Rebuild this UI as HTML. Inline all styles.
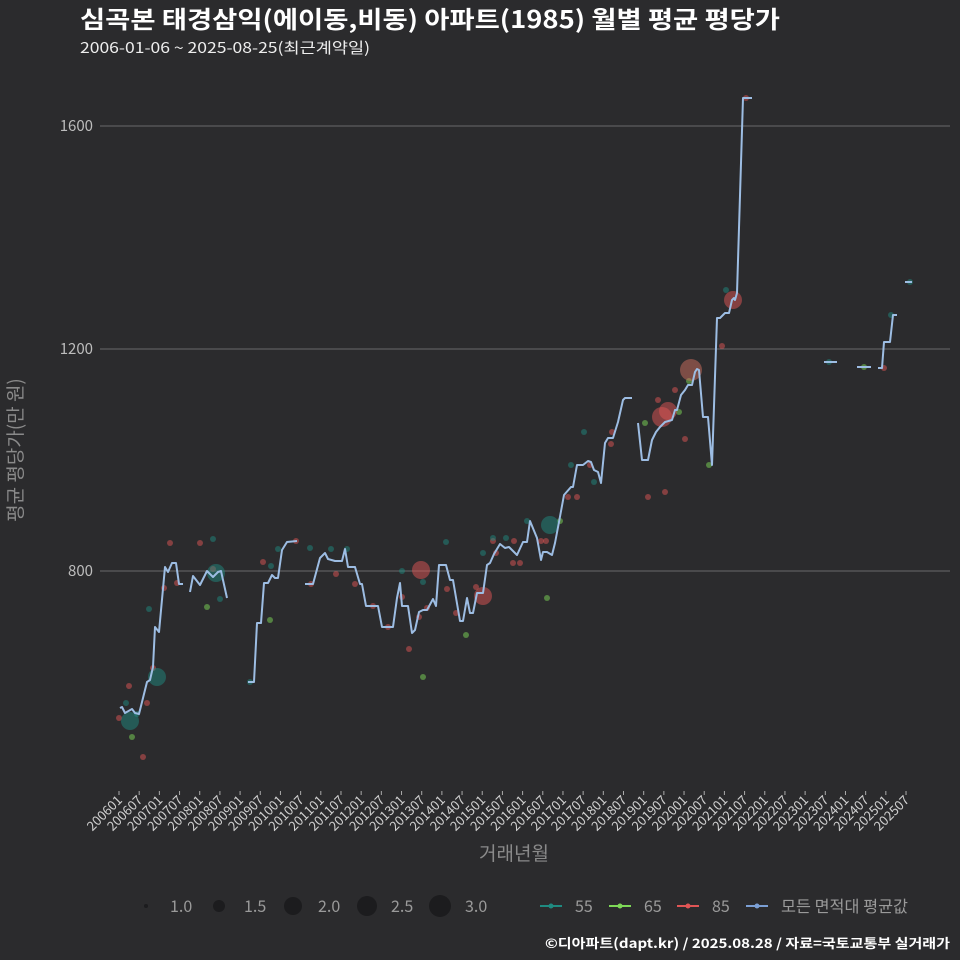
<!DOCTYPE html>
<html><head><meta charset="utf-8"><style>
body{margin:0;background:#2b2b2d;}
svg{display:block;font-family:"Noto Sans CJK KR","Liberation Sans",sans-serif;}
</style></head><body>
<svg id="s" width="960" height="960" viewBox="0 0 960 960" xmlns="http://www.w3.org/2000/svg">
<rect width="960" height="960" fill="#2b2b2d"/>
<text x="80" y="28" fill="#fff" font-size="24" font-weight="bold" textLength="700" lengthAdjust="spacingAndGlyphs">심곡본 태경삼익(에이동,비동) 아파트(1985) 월별 평균 평당가</text>
<text x="80" y="53" fill="#eee" font-size="15" textLength="290" lengthAdjust="spacingAndGlyphs">2006-01-06 ~ 2025-08-25(최근계약일)</text>
<g stroke="#6a6a6a" stroke-width="1">
<line x1="100" y1="126" x2="950" y2="126"/><line x1="100" y1="349" x2="950" y2="349"/><line x1="100" y1="571" x2="950" y2="571"/>
</g>
<g fill="#bdbdbd" font-size="15" text-anchor="end">
<text x="93" y="131">1600</text><text x="93" y="354">1200</text><text x="93" y="576">800</text>
</g>
<text transform="translate(22,450) rotate(-90)" fill="#8a8a8a" font-size="19" text-anchor="middle">평균 평당가(만 원)</text>
<text x="514" y="860" fill="#8a8a8a" font-size="19" text-anchor="middle">거래년월</text>
<g id="ticks"></g>
<g id="pts"></g>
<g fill="none" stroke="#9dbde3" stroke-width="2" stroke-linejoin="round">
<polyline points="120,708 122,707 125,713 132,709 135,713 139,714 143,698 147,682 150,680 153,667 155,627 159,632 165,567 168,572 172,563 176,563 179,584 183,584"/>
<polyline points="190,592 193,576 200,585 207,571 213,577 218,572 221,571 227,598"/>
<polyline points="248,682 254,682 257,623 261,623 264,583 268,583 272,575 275,578 278,578 282,550 287,542 297,541"/>
<polyline points="305,584 313,584 320,558 325,553 328,559 335,561 342,561 345,549 348,567 355,567 360,584 362,584 366,606 378,606 382,627 393,627 397,598 400,583 402,606 408,606 412,633 415,630 419,612 423,610 427,610 433,599 436,606 439,565 446,565 450,580 453,580 460,621 463,621 467,598 470,613 473,613 477,593 483,593 487,565 490,563 494,554 500,544 505,548 509,547 517,555 523,542 527,542 530,521 537,538 541,560 543,552 547,552 552,555 555,543 559,522 564,495 571,487 573,487 577,465 583,465 588,461 591,462 594,470 598,472 601,483 605,443 608,438 613,438 618,422 623,400 625,398 632,398"/>
<polyline points="638,423 642,460 648,460 652,440 656,432 660,427 665,422 672,420 675,410 677,410 681,395 685,390 688,385 692,385 695,372 697,369 699,370 703,417 708,417 712,465 717,318 720,318 725,313 729,313 732,300 734,298 735,300 737,293 743,98 752,98"/>
<polyline points="824,362 837,362"/>
<polyline points="857,367 871,367"/>
<polyline points="878,368 882,368 884,342 890,342 893,315 897,315"/>
<polyline points="905,282 912,282"/>
</g>
<g font-size="16" fill="#9a9a9a">
<circle cx="146" cy="906" r="2" fill="#1c1c1e"/><text x="170" y="912">1.0</text>
<circle cx="219" cy="906" r="6" fill="#1c1c1e"/><text x="244" y="912">1.5</text>
<circle cx="293" cy="906" r="9" fill="#1c1c1e"/><text x="318" y="912">2.0</text>
<circle cx="367" cy="906" r="10" fill="#1c1c1e"/><text x="391" y="912">2.5</text>
<circle cx="440" cy="906" r="11" fill="#1c1c1e"/><text x="465" y="912">3.0</text>
<line x1="540" y1="906" x2="562" y2="906" stroke="#1f8a80" stroke-width="2"/><circle cx="551" cy="906" r="2.5" fill="#1f8a80"/><text x="575" y="912">55</text>
<line x1="609" y1="906" x2="631" y2="906" stroke="#7ed957" stroke-width="2"/><circle cx="620" cy="906" r="2.5" fill="#7ed957"/><text x="644" y="912">65</text>
<line x1="677" y1="906" x2="699" y2="906" stroke="#e05555" stroke-width="2"/><circle cx="688" cy="906" r="2.5" fill="#e05555"/><text x="712" y="912">85</text>
<line x1="746" y1="906" x2="768" y2="906" stroke="#7b9fd4" stroke-width="2"/><circle cx="757" cy="906" r="2.5" fill="#7b9fd4"/><text x="781" y="912" textLength="127" lengthAdjust="spacingAndGlyphs">모든 면적대 평균값</text>
</g>
<text x="950" y="948" fill="#fff" font-size="13" font-weight="bold" text-anchor="end" textLength="405" lengthAdjust="spacingAndGlyphs">©디아파트(dapt.kr) / 2025.08.28 / 자료=국토교통부 실거래가</text>
</svg>
<script>
var NS="http://www.w3.org/2000/svg",t=document.getElementById("ticks");
for(var i=0;i<40;i++){var x=119+i*20.18,y=2006+Math.floor(i/2),m=i%2?"07":"01";
var l=document.createElementNS(NS,"line");l.setAttribute("x1",x);l.setAttribute("x2",x);l.setAttribute("y1",791);l.setAttribute("y2",795);l.setAttribute("stroke","#aaa");t.appendChild(l);
var tx=document.createElementNS(NS,"text");tx.setAttribute("transform","translate("+(x+4)+",801) rotate(-45)");tx.setAttribute("text-anchor","end");tx.setAttribute("fill","#d0d0d0");tx.setAttribute("font-size","13");tx.textContent=y+m;t.appendChild(tx);}
var P=document.getElementById("pts");
function c(x,y,r,col){var e=document.createElementNS(NS,"circle");e.setAttribute("cx",x);e.setAttribute("cy",y);e.setAttribute("r",r);e.setAttribute("fill",col);e.setAttribute("fill-opacity","0.5");P.appendChild(e);}
var R="#e05555",T="#1f8a80",G="#7ed957";
[[119,718],[129,686],[143,757],[147,703],[153,668],[164,588],[170,543],[177,583],[200,543],[213,569],[263,562],[296,541],[311,584],[336,574],[355,584],[373,606],[388,627],[402,597],[409,649],[419,617],[427,608],[447,589],[456,613],[476,587],[493,541],[496,553],[514,541],[513,563],[520,563],[541,541],[546,541],[568,497],[577,497],[590,465],[612,432],[611,444],[648,497],[665,492],[685,439],[658,400],[675,390],[722,346],[746,98],[884,368]].forEach(function(p){c(p[0],p[1],3,R)});
[[126,703],[137,714],[149,609],[213,539],[220,599],[271,566],[278,549],[250,682],[310,548],[331,549],[347,549],[402,571],[423,582],[446,542],[483,553],[493,538],[506,538],[527,521],[584,432],[594,482],[571,465],[726,290],[891,315],[910,282],[829,362]].forEach(function(p){c(p[0],p[1],3,T)});
[[132,737],[207,607],[270,620],[423,677],[466,635],[547,598],[560,521],[645,423],[679,412],[709,465],[689,381],[864,367]].forEach(function(p){c(p[0],p[1],3,G)});
c(130,721,9,T);c(157,677,9,T);c(216,573,9,T);c(550,525,9,T);
c(421,570,9,R);c(483,596,9,R);c(662,417,10,R);c(668,411,9,R);c(691,370,11,"#d07060");c(733,300,9,R);
</script>
</body></html>
